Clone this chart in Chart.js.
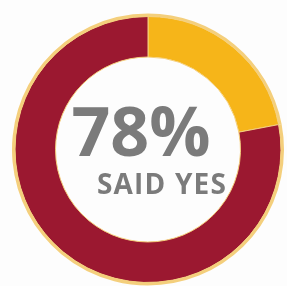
<!DOCTYPE html>
<html>
<head>
<meta charset="utf-8">
<script src="https://cdn.jsdelivr.net/npm/chart.js@4"></script>
<style>
  html, body { margin: 0; padding: 0; background: #fdfdfd; }
  #wrap { width: 287px; height: 286px; position: relative; }
</style>
</head>
<body>
<div id="wrap"><canvas id="donut"></canvas></div>
<script>
const categories = ["No", "Yes"];
const answerValues = [22, 78];
const headline = "78%";
const subline = "SAID YES";

const RED = "#9b1830";
const GOLD = "#f6b519";
const RIM = "#f4cf7c";
const TEXT = "#7b7b7b";

// center label drawn on top of the donut
const centerText = {
  id: "centerText",
  afterDatasetsDraw(chart) {
    const ctx = chart.ctx;
    const meta = chart.getDatasetMeta(1).data[0];
    const cx = meta.x, cy = meta.y;
    ctx.save();
    ctx.fillStyle = TEXT;
    ctx.textAlign = "center";
    ctx.textBaseline = "alphabetic";
    ctx.font = "bold 68px 'Open Sans'";
    ctx.letterSpacing = "0px";
    ctx.fillText(headline, cx - 7, cy + 6);
    ctx.font = "bold 28px 'Open Sans'";
    ctx.letterSpacing = "1.2px";
    ctx.fillText(subline, cx + 14, cy + 44);
    ctx.restore();
  }
};

new Chart(document.getElementById("donut"), {
  type: "doughnut",
  data: {
    labels: categories,
    datasets: [
      {
        data: answerValues,
        backgroundColor: [RIM, RIM],
        borderWidth: 0,
        weight: 3
      },
      {
        data: answerValues,
        backgroundColor: [GOLD, RED],
        borderColor: RIM,
        borderWidth: 1,
        weight: 40
      }
    ]
  },
  options: {
    responsive: true,
    maintainAspectRatio: false,
    animation: false,
    cutout: "68%",
    layout: { padding: { left: 12, right: 3, top: 13, bottom: 0 } },
    plugins: {
      legend: { display: false },
      tooltip: { enabled: false }
    }
  },
  plugins: [centerText]
});
</script>
</body>
</html>
